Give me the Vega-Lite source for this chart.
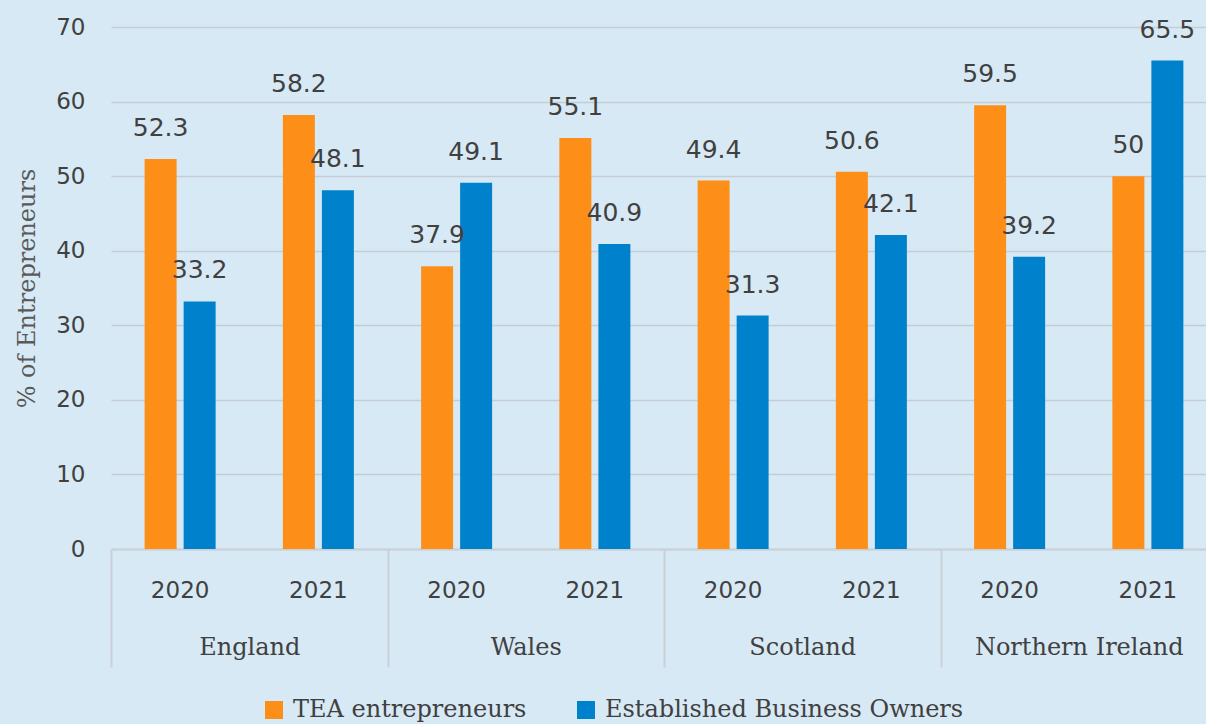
{
  "$schema": "https://vega.github.io/schema/vega-lite/v6.json",
  "width": 1095,
  "height": 522,
  "autosize": {"type": "none"},
  "padding": {"left": 111, "top": 27, "right": 0, "bottom": 175},
  "background": "#d7e9f5",
  "config": {"view": {"stroke": null}},
  "data": {
    "values": [
      {"country": "England", "key": "England|2020", "series": "TEA entrepreneurs", "value": 52.3},
      {"country": "England", "key": "England|2020", "series": "Established Business Owners", "value": 33.2},
      {"country": "England", "key": "England|2021", "series": "TEA entrepreneurs", "value": 58.2},
      {"country": "England", "key": "England|2021", "series": "Established Business Owners", "value": 48.1},
      {"country": "Wales", "key": "Wales|2020", "series": "TEA entrepreneurs", "value": 37.9},
      {"country": "Wales", "key": "Wales|2020", "series": "Established Business Owners", "value": 49.1},
      {"country": "Wales", "key": "Wales|2021", "series": "TEA entrepreneurs", "value": 55.1},
      {"country": "Wales", "key": "Wales|2021", "series": "Established Business Owners", "value": 40.9},
      {"country": "Scotland", "key": "Scotland|2020", "series": "TEA entrepreneurs", "value": 49.4},
      {"country": "Scotland", "key": "Scotland|2020", "series": "Established Business Owners", "value": 31.3},
      {"country": "Scotland", "key": "Scotland|2021", "series": "TEA entrepreneurs", "value": 50.6},
      {"country": "Scotland", "key": "Scotland|2021", "series": "Established Business Owners", "value": 42.1},
      {"country": "Northern Ireland", "key": "Northern Ireland|2020", "series": "TEA entrepreneurs", "value": 59.5},
      {"country": "Northern Ireland", "key": "Northern Ireland|2020", "series": "Established Business Owners", "value": 39.2},
      {"country": "Northern Ireland", "key": "Northern Ireland|2021", "series": "TEA entrepreneurs", "value": 50},
      {"country": "Northern Ireland", "key": "Northern Ireland|2021", "series": "Established Business Owners", "value": 65.5}
    ]
  },
  "layer": [
    {
      "layer": [
        {
          "mark": {"type": "bar"},
          "encoding": {
            "x": {
              "field": "key", "type": "nominal", "sort": null,
              "scale": {"range": [0, 1106], "paddingInner": 0, "paddingOuter": 0},
              "axis": {"orient": "bottom", "title": null, "labelExpr": "split(datum.value, '|')[1]", "ticks": false, "labelAngle": 0, "labelPadding": 30, "labelFont": "DejaVu Sans", "labelFontSize": 23, "labelColor": "#404040", "domainColor": "#c9d0d6", "domainWidth": 2, "grid": false}
            },
            "xOffset": {
              "field": "series", "type": "nominal", "sort": ["TEA entrepreneurs", "Established Business Owners"],
              "scale": {"paddingInner": 0.18, "paddingOuter": 0.862}
            },
            "y": {
              "field": "value", "type": "quantitative",
              "scale": {"domain": [0, 70]},
              "axis": {"values": [0, 10, 20, 30, 40, 50, 60, 70], "title": "% of Entrepreneurs", "titleFont": "DejaVu Serif", "titleFontSize": 24, "titleFontWeight": "normal", "titleColor": "#595959", "titlePadding": 16, "labelFont": "DejaVu Sans", "labelFontSize": 23, "labelColor": "#404040", "labelPadding": 26, "ticks": false, "domain": false, "grid": true, "gridColor": "#c5cdd4", "gridWidth": 1.5}
            },
            "color": {
              "field": "series", "type": "nominal", "sort": ["TEA entrepreneurs", "Established Business Owners"],
              "scale": {"range": ["#fd8e17", "#0081cb"]},
              "legend": {"orient": "none", "legendX": 151, "legendY": 671, "direction": "horizontal", "title": null, "symbolType": "square", "symbolSize": 324, "symbolStrokeWidth": 0, "symbolOpacity": 1, "labelFont": "DejaVu Serif", "labelFontSize": 24, "labelColor": "#404040", "labelOffset": 7, "columnPadding": 47, "labelLimit": 500}
            }
          }
        },
        {
          "mark": {"type": "text", "dy": -31, "baseline": "middle", "font": "DejaVu Sans", "fontSize": 25, "color": "#404040"},
          "encoding": {
            "x": {
              "field": "key", "type": "nominal", "sort": null,
              "scale": {"range": [0, 1106], "paddingInner": 0, "paddingOuter": 0},
              "axis": {"orient": "bottom", "title": null, "labelExpr": "split(datum.value, '|')[1]", "ticks": false, "labelAngle": 0, "labelPadding": 30, "labelFont": "DejaVu Sans", "labelFontSize": 23, "labelColor": "#404040", "domainColor": "#c9d0d6", "domainWidth": 2, "grid": false}
            },
            "xOffset": {
              "field": "series", "type": "nominal", "sort": ["TEA entrepreneurs", "Established Business Owners"],
              "scale": {"paddingInner": 0.18, "paddingOuter": 0.862}
            },
            "y": {"field": "value", "type": "quantitative"},
            "text": {"field": "value", "type": "nominal"}
          }
        }
      ]
    },
    {
      "mark": {"type": "tick", "opacity": 0},
      "encoding": {
        "x": {
          "field": "country", "type": "nominal", "sort": null,
          "scale": {"range": [0, 1106], "paddingInner": 0, "paddingOuter": 0},
          "axis": {"orient": "bottom", "title": null, "domain": false, "ticks": true, "tickBand": "extent", "tickSize": 118, "tickColor": "#c9d0d6", "tickWidth": 2, "labelPadding": -32, "labelAngle": 0, "labelFont": "DejaVu Serif", "labelFontSize": 24, "labelColor": "#404040", "labelLimit": 400, "grid": false}
        }
      }
    }
  ],
  "resolve": {"scale": {"x": "independent"}}
}
